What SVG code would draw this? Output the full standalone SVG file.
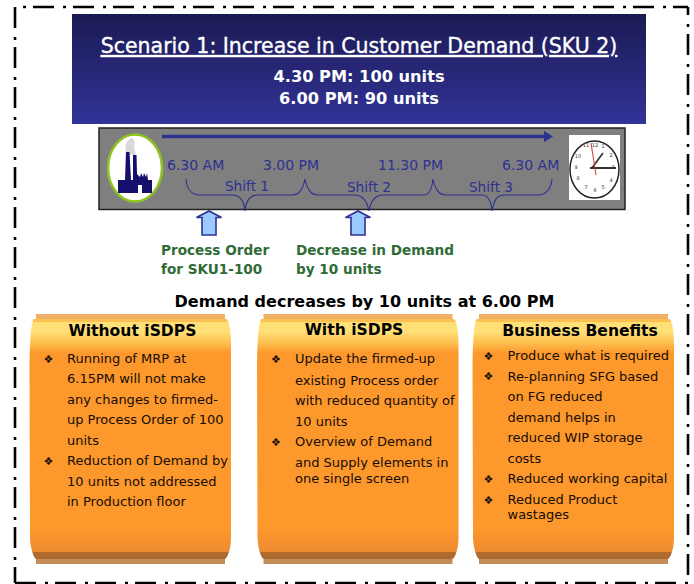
<svg xmlns="http://www.w3.org/2000/svg" width="694" height="584" viewBox="0 0 694 584">
<style>
text{font-family:"DejaVu Sans","Liberation Sans",sans-serif}
.body{font-size:13px;fill:#140d04}
.bul{font-size:11px;fill:#140d04}
.head{font-size:15.6px;font-weight:bold;fill:#000;text-anchor:middle}
.time{font-size:14px;fill:#2e3192}
.shift{font-size:13.7px;fill:#2e3192;text-anchor:middle}
.green{font-size:13.6px;font-weight:bold;fill:#2f6b36}
.brace{fill:none;stroke:#2e3192;stroke-width:1.1}
.up{fill:#9cc9ff;stroke:#2e3192;stroke-width:1.6}
.frame{fill:none;stroke:#000;stroke-width:2.6;stroke-dasharray:21 9 3 7}
.clk{font-size:5px;fill:#333;text-anchor:middle}
</style>
<defs>
<linearGradient id="banner" x1="0" y1="0" x2="0" y2="1"><stop offset="0" stop-color="#1a1a52"/><stop offset="1" stop-color="#333399"/></linearGradient>
<linearGradient id="card" x1="0" y1="0" x2="0" y2="1">
<stop offset="0" stop-color="#f0b066"/><stop offset=".02" stop-color="#f0b066"/><stop offset=".021" stop-color="#fbc050"/><stop offset=".032" stop-color="#fbc050"/><stop offset=".034" stop-color="#ffe076"/><stop offset=".07" stop-color="#ffe076"/><stop offset=".12" stop-color="#fdbb4b"/><stop offset=".155" stop-color="#fd982d"/><stop offset=".86" stop-color="#fd982d"/><stop offset=".95" stop-color="#ec8b30"/><stop offset=".952" stop-color="#b06c2c"/><stop offset=".978" stop-color="#ab692d"/><stop offset=".98" stop-color="#c48c58"/><stop offset="1" stop-color="#c48c58"/>
</linearGradient>
<path id="cardshape" d="M6.500 0H195.500V5H197Q201 8 201.500 30V225Q201 238 196.500 244.500H195.500V250H6.500V244.500H5.500Q1.500 238 .5 225L0 50Q0.500 12 4 5H6.500Z"/>
</defs>
<rect width="694" height="584" fill="#fff"/>
<g id="frame">
<path class="frame" d="M15 7V583"/>
<path class="frame" d="M23 7H688" stroke-dashoffset="30"/>
<path class="frame" d="M688 7V583" stroke-dashoffset="13"/>
<path class="frame" d="M15 583H688"/>
</g>
<g id="banner-node">
<rect x="72" y="14" width="574" height="110" fill="url(#banner)"/>
<text x="359" y="53" font-size="20.500" fill="#fff" stroke="#fff" stroke-width=".35" text-anchor="middle" text-decoration="underline">Scenario 1: Increase in Customer Demand (SKU 2)</text>
<text x="359" y="82" font-size="16.200" font-weight="bold" fill="#fff" text-anchor="middle">4.30 PM: 100 units</text>
<text x="359" y="104" font-size="16.200" font-weight="bold" fill="#fff" text-anchor="middle">6.00 PM: 90 units</text>
</g>
<g id="timeline">
<rect x="99" y="128" width="526" height="81.500" fill="#7f7f7f" stroke="#222" stroke-width="1.500"/>
<ellipse cx="135" cy="168" rx="27" ry="33.500" fill="#fff" stroke="#8dc21f" stroke-width="2.500"/>
<path fill="#d8d8d8" d="M126 153Q123 143 131 138 136 138 134 147L136 155H130Z"/>
<path fill="#14106b" d="M118 193V180L125 180 126 152H129.500L131 180H133L133 155H136.500L137 174 140 177 141 173 143 177 144 173 146 177 147 173 148 180H152V193H142V185H138V193Z"/>
<path d="M162 136.500H544" stroke="#2e3192" stroke-width="3.500"/>
<path d="M544 131L553 136.500 544 142Z" fill="#2e3192"/>
<text class="time" x="167" y="170">6.30 AM</text>
<text class="time" x="263" y="170">3.00 PM</text>
<text class="time" x="378" y="170">11.30 PM</text>
<text class="time" x="502" y="170">6.30 AM</text>
<text class="shift" x="247" y="190.500">Shift 1</text>
<text class="shift" x="369" y="192">Shift 2</text>
<text class="shift" x="491" y="192">Shift 3</text>
<path class="brace" d="M186 179C187 190 191 195 200 195H232C240 195 244 200 245 211 246 200 250 195 258 195H292C300 195 303 188 305 179 307 188 310 195 318 195H354C362 195 367 200 369 211 371 200 375 195 383 195H424C430 195 432 188 433 179 435 188 438 195 446 195H482C488 195 491 200 492 211 494 200 497 195 504 195H538C545 195 551 190 552 179"/>
<rect x="569" y="135" width="51" height="65" fill="#fff"/>
<ellipse cx="594.500" cy="169.500" rx="24.500" ry="28.500" fill="#fff" stroke="#222" stroke-width="1.500"/>
<text class="clk" x="595" y="147">12</text><text class="clk" x="603" y="148">1</text><text class="clk" x="611" y="157">2</text><text class="clk" x="613" y="169">3</text><text class="clk" x="611" y="182">4</text><text class="clk" x="603" y="189">5</text><text class="clk" x="595" y="192">6</text><text class="clk" x="586" y="189">7</text><text class="clk" x="578" y="180">8</text><text class="clk" x="576" y="169">9</text><text class="clk" x="578" y="158">10</text><text class="clk" x="586" y="147">11</text>
<path d="M590 168H616" stroke="#333" stroke-width="2"/>
<path d="M592 168L603 153" stroke="#333" stroke-width="1.600"/>
<path d="M591 143L596 175" stroke="#e03030" stroke-width="1"/>
</g>
<g id="arrow-process">
<path class="up" d="M196.500 217.500L209 211 221.500 217.500H216V235H202V217.500Z"/>
<text class="green" x="161" y="255">Process Order</text>
<text class="green" x="161" y="274">for SKU1-100</text>
</g>
<g id="arrow-demand">
<path class="up" d="M345.500 217.500L358 211 370.500 217.500H365V235H351V217.500Z"/>
<text class="green" x="296" y="255">Decrease in Demand</text>
<text class="green" x="296" y="274">by 10 units</text>
</g>
<text x="364.500" y="307" font-size="16" font-weight="bold" fill="#000" text-anchor="middle">Demand decreases by 10 units at 6.00 PM</text>
<g id="card-without" transform="translate(29.500 314)">
<use href="#cardshape" fill="url(#card)"/>
<text class="head" x="103" y="22">Without iSDPS</text>
<text class="bul" x="14" y="49">❖</text>
<text class="body"><tspan x="37.500" y="49">Running of MRP at</tspan><tspan x="37.500" y="69">6.15PM will not make</tspan><tspan x="37.500" y="90">any  changes to firmed-</tspan><tspan x="37.500" y="110">up Process Order of 100</tspan><tspan x="37.500" y="131">units</tspan><tspan x="37.500" y="151">Reduction of Demand by</tspan><tspan x="37.500" y="172">10 units not addressed</tspan><tspan x="37.500" y="192">in Production floor</tspan></text>
<text class="bul" x="14" y="151">❖</text>
</g>
<g id="card-with" transform="translate(257 314)">
<use href="#cardshape" fill="url(#card)"/>
<text class="head" x="97" y="21">With iSDPS</text>
<text class="bul" x="14" y="49">❖</text>
<text class="body"><tspan x="38" y="49">Update the firmed-up</tspan><tspan x="38" y="71">existing Process order</tspan><tspan x="38" y="91">with reduced quantity of</tspan><tspan x="38" y="112">10 units</tspan><tspan x="38" y="132">Overview of Demand</tspan><tspan x="38" y="153">and Supply elements in</tspan><tspan x="38" y="169">one single screen</tspan></text>
<text class="bul" x="14" y="132">❖</text>
</g>
<g id="card-benefits" transform="translate(472.500 314)">
<use href="#cardshape" fill="url(#card)"/>
<text class="head" x="107.500" y="22">Business Benefits</text>
<text class="bul" x="11" y="46">❖</text><text class="bul" x="11" y="66">❖</text><text class="bul" x="11" y="169">❖</text><text class="bul" x="11" y="190">❖</text>
<text class="body"><tspan x="35" y="46">Produce what is required</tspan><tspan x="35" y="67">Re-planning SFG based</tspan><tspan x="35" y="87">on FG reduced</tspan><tspan x="35" y="108">demand helps in</tspan><tspan x="35" y="128">reduced WIP storage</tspan><tspan x="35" y="149">costs</tspan><tspan x="35" y="169">Reduced working capital</tspan><tspan x="35" y="190">Reduced Product</tspan><tspan x="35" y="205">wastages</tspan></text>
</g>
</svg>
